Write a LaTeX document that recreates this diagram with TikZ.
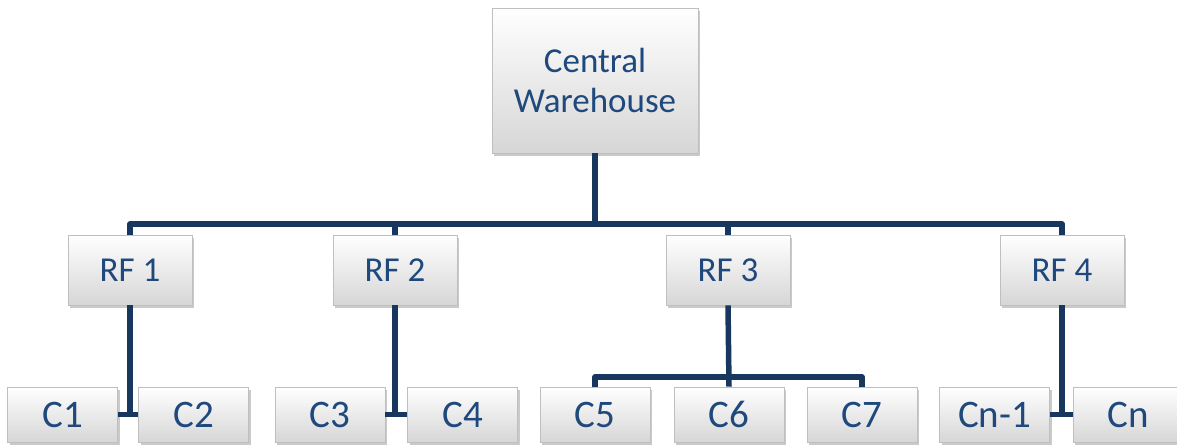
\documentclass[tikz,border=0pt]{standalone}
\usepackage{fontspec}
\setmainfont{Carlito}
\usetikzlibrary{shadows}
\definecolor{txtblue}{RGB}{31,73,125}
\definecolor{lineblue}{RGB}{23,55,94}
\tikzset{
 box/.style={draw=gray!50, line width=0.6pt, top color=white, bottom color=gray!32, text=txtblue, inner sep=0pt,
   drop shadow={shadow xshift=2pt, shadow yshift=-3pt, opacity=0.35, fill=black!60}},
 topbox/.style={box, minimum width=206pt, minimum height=145pt, font=\fontsize{35}{40}\selectfont, align=center},
 rfbox/.style={box, minimum width=124pt, minimum height=70pt, font=\fontsize{35}{40}\selectfont},
 cbox/.style={box, minimum width=110pt, minimum height=55pt, font=\fontsize{39}{44}\selectfont},
 link/.style={draw=lineblue, line width=5.5pt, line join=round}
}
\begin{document}
\begin{tikzpicture}[x=1pt,y=-1pt]
\useasboundingbox (0,0) rectangle (1177,446);
\clip (0,0) rectangle (1177,446);
\node[topbox] (cw) at (595,80.5) {Central\\Warehouse};
\node[rfbox] (rf1) at (130,270) {RF 1};
\node[rfbox] (rf2) at (395,270) {RF 2};
\node[rfbox] (rf3) at (728,270) {RF 3};
\node[rfbox] (rf4) at (1062,270) {RF 4};
\node[cbox] (c1) at (62.5,414.5) {C1};
\node[cbox] (c2) at (193.5,414.5) {C2};
\node[cbox] (c3) at (330,414.5) {C3};
\node[cbox] (c4) at (462.5,414.5) {C4};
\node[cbox] (c5) at (595,414.5) {C5};
\node[cbox] (c6) at (729,414.5) {C6};
\node[cbox] (c7) at (862,414.5) {C7};
\node[cbox] (cn1) at (994.5,414.5) {Cn-1};
\node[cbox] (cn) at (1128,414.5) {Cn};
\coordinate (bar) at (595,224);
\coordinate (bar3) at (728,377);
\draw[link] (cw.south) -- (cw.south |- bar);
\draw[link] (rf1.north) -- (rf1.north |- bar) -- (rf4.north |- bar) -- (rf4.north);
\draw[link] (rf2.north) -- (rf2.north |- bar);
\draw[link] (rf3.north) -- (rf3.north |- bar);
\draw[link] (rf1.south) -- (rf1.south |- c1.east);
\draw[link] (c1.east) -- (c2.west);
\draw[link] (rf2.south) -- (rf2.south |- c3.east);
\draw[link] (c3.east) -- (c4.west);
\draw[link] (rf3.south) -- (c6.north);
\draw[link] (c5.north) -- (c5.north |- bar3) -- (c7.north |- bar3) -- (c7.north);
\draw[link] (rf4.south) -- (rf4.south |- cn1.east);
\draw[link] (cn1.east) -- (cn.west);
\end{tikzpicture}
\end{document}
